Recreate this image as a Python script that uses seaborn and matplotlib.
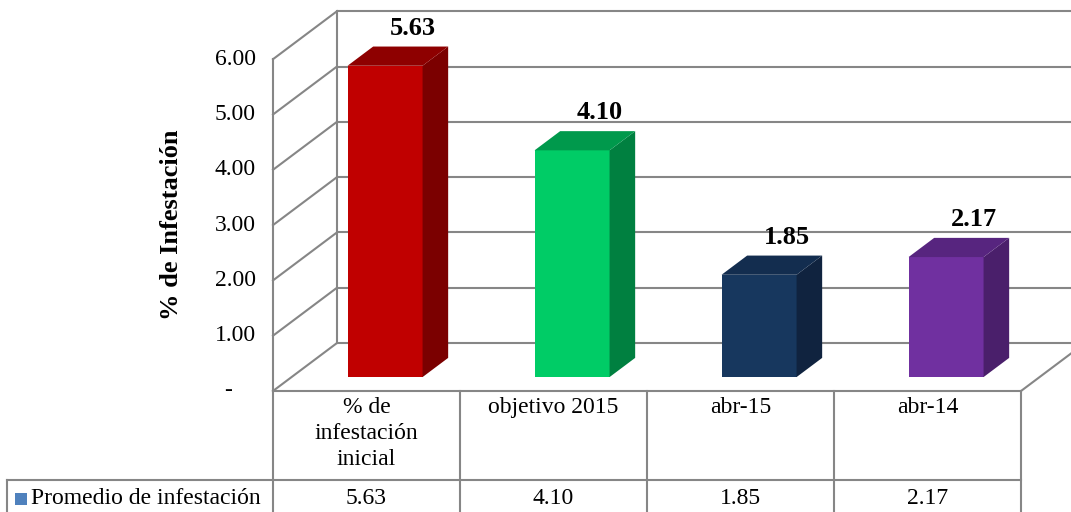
import numpy as np
import pandas as pd
import matplotlib

matplotlib.use("Agg")

import matplotlib.pyplot as plt
import seaborn as sns
from matplotlib.patches import Polygon, Rectangle

# ============================================================
# Data
# ============================================================

categories = ["% de\ninfestación\ninicial", "objetivo 2015", "abr-15", "abr-14"]
values = [5.63, 4.10, 1.85, 2.17]
series_name = "Promedio de infestación"
y_ticks = [0, 1, 2, 3, 4, 5, 6]
y_tick_labels = ["-    ", "1.00", "2.00", "3.00", "4.00", "5.00", "6.00"]
y_title = "% de Infestación"

front_colors = ["#C00000", "#00CC66", "#17375E", "#7030A0"]
side_colors = ["#7B0000", "#008040", "#10233F", "#4A1F6B"]
top_colors = ["#8E0000", "#00994C", "#132D4F", "#57257F"]
legend_color = "#4F81BD"

# ============================================================
# Layout (pixels of the 1071x512 picture)
# ============================================================

W, H = 1071, 512
X0, CAT_W = 273, 187.0      # front-left edge of the plot, px per category
Y0, UNIT = 391, 55.3        # front zero line, px per unit
DX, DY = 64 / CAT_W, 48 / UNIT   # full depth of the floor, in data units
D_FRONT, D_BACK = 0.29, 0.69     # bar depth inside the floor
BAR_W = 75 / CAT_W
GRID = "#868686"
LW = 1.5
FS = 17

plt.rcParams["font.family"] = ["Liberation Serif", "DejaVu Serif"]


def px_x(px):
    return -0.5 + (px - X0) / CAT_W


def px_y(py):
    return (Y0 - py) / UNIT


fig = plt.figure(figsize=(W / 100, H / 100), dpi=100)
ax = fig.add_axes([0, 0, 1, 1])

df = pd.DataFrame({"cat": categories, "val": values})

sns.barplot(
    data=df, x="cat", y="val", hue="cat",
    palette=front_colors, saturation=1, width=BAR_W, linewidth=0,
    legend=False, ax=ax, zorder=3
)

ax.set_xlim(px_x(0), px_x(W))
ax.set_ylim(px_y(H), px_y(0))
ax.axis("off")

n = len(categories)
x_left, x_right = -0.5, n - 0.5
top_v = y_ticks[-1]

# ============================================================
# Walls and floor
# ============================================================

for v in y_ticks:
    ax.plot([x_left + DX, x_right + DX + 1], [v + DY, v + DY],
            color=GRID, lw=LW, zorder=1, solid_capstyle="butt")
    ax.plot([x_left, x_left + DX], [v, v + DY], color=GRID, lw=LW, zorder=1)

ax.plot([x_left, x_left], [0, top_v], color=GRID, lw=LW, zorder=1)
ax.plot([x_left + DX, x_left + DX], [DY, top_v + DY], color=GRID, lw=LW, zorder=1)
ax.plot([x_left, x_right], [0, 0], color=GRID, lw=LW, zorder=1)
ax.plot([x_right, x_right + DX], [0, DY], color=GRID, lw=LW, zorder=1)

for v, lab in zip(y_ticks, y_tick_labels):
    ax.text(px_x(256), v, lab, ha="right", va="center", fontsize=FS)

ax.text(px_x(172), px_y(225), y_title, rotation=90, ha="center",
        va="center", fontsize=19, fontweight="bold")

# ============================================================
# 3D bars
# ============================================================

bars = sorted(ax.patches, key=lambda p: p.get_x())
ddx = (D_BACK - D_FRONT) * DX
ddy = (D_BACK - D_FRONT) * DY

for i, p in enumerate(bars):
    p.set_x(p.get_x() + D_FRONT * DX)
    p.set_y(D_FRONT * DY)
    x0 = p.get_x()
    x1 = x0 + p.get_width()
    yb = p.get_y()
    yt = yb + p.get_height()
    side = [(x1, yb), (x1 + ddx, yb + ddy), (x1 + ddx, yt + ddy), (x1, yt)]
    top = [(x0, yt), (x1, yt), (x1 + ddx, yt + ddy), (x0 + ddx, yt + ddy)]
    ax.add_patch(Polygon(side, closed=True, fc=side_colors[i], ec="none", zorder=3))
    ax.add_patch(Polygon(top, closed=True, fc=top_colors[i], ec="none", zorder=3))
    ax.text((x0 + x1) / 2 + ddx + 2 / CAT_W, yt + ddy + 12 / UNIT,
            f"{values[i]:.2f}", ha="center", va="baseline",
            fontsize=19, fontweight="bold")

# ============================================================
# Data table
# ============================================================

row_y = px_y(480)
bottom = px_y(H)
table_left = px_x(7)

ax.plot([table_left, x_right], [row_y, row_y], color=GRID, lw=LW, zorder=1)
ax.plot([table_left, table_left], [row_y, bottom], color=GRID, lw=LW, zorder=1)
for i in range(n + 1):
    ax.plot([x_left + i, x_left + i], [0, bottom], color=GRID, lw=LW, zorder=1)

for i, (cat, v) in enumerate(zip(categories, values)):
    ax.text(i, px_y(397), cat, ha="center", va="top", fontsize=FS,
            multialignment="center", linespacing=1.3)
    ax.text(i, px_y(498), f"{v:.2f}", ha="center", va="center", fontsize=FS)

ax.add_patch(Rectangle((px_x(15), px_y(505)), 12 / CAT_W, 12 / UNIT,
                       fc=legend_color, ec="none"))
ax.text(px_x(31), px_y(498), series_name, ha="left", va="center", fontsize=FS)

fig.savefig("out.png", dpi=100)
